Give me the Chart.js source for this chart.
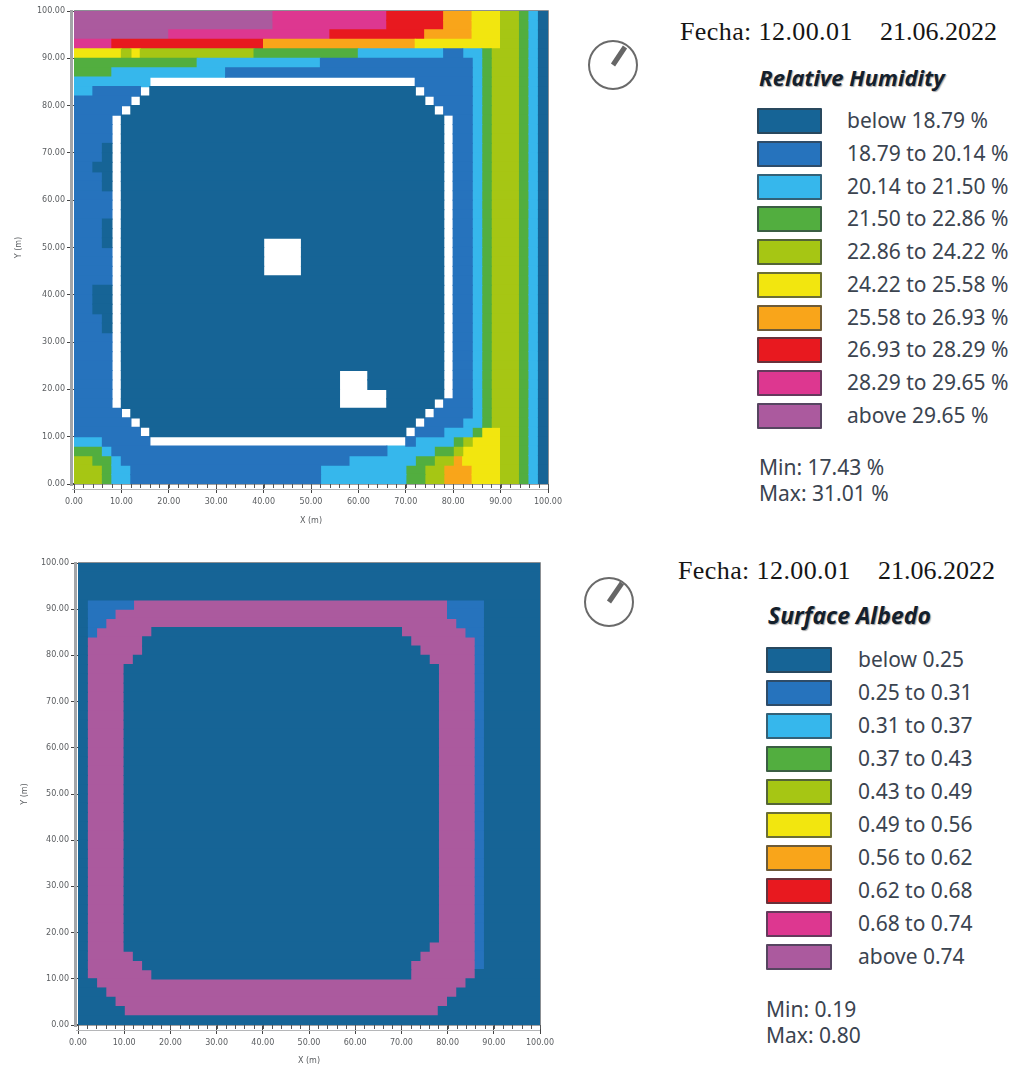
<!DOCTYPE html>
<html>
<head>
<meta charset="utf-8">
<script src="https://cdn.jsdelivr.net/npm/chart.js@4"></script>
<style>
  html, body { margin: 0; padding: 0; background: #fff; }
  body { position: relative; width: 1018px; height: 1069px; overflow: hidden; font-family: "Noto Sans", sans-serif; color: #3b4450; filter: blur(.4px); }
  canvas { position: absolute; left: 0; }
  svg { position: absolute; }
  .txt { position: absolute; white-space: nowrap; line-height: 1; }
  .fecha { font-family: "Liberation Serif", serif; font-size: 26px; color: #151515; }
  .title { font-family: "Noto Sans", sans-serif; font-weight: bold; font-style: italic; font-size: 22px; color: #14202c; text-shadow: 1px 1px 1px rgba(0,0,0,.35); }
  .lab { font-size: 21px; }
  .box { position: absolute; box-sizing: border-box; border: 2px solid rgba(50,60,70,.7); border-radius: 1px; }
</style>
</head>
<body>
<canvas id="humidityChart" width="580" height="535" style="top:0"></canvas>
<canvas id="albedoChart" width="580" height="529" style="top:540px"></canvas>
<script>
// 凡例の色（クラス 0〜9）
const classColors = ['#166496', '#2673bd', '#36b7ec', '#52ae3f', '#a6c614', '#f2e60f', '#f9a51a', '#e8191f', '#dd3790', '#ab5a9e'];

const humidityLabels = ['below 18.79 %', '18.79 to 20.14 %', '20.14 to 21.50 %', '21.50 to 22.86 %', '22.86 to 24.22 %', '24.22 to 25.58 %', '25.58 to 26.93 %', '26.93 to 28.29 %', '28.29 to 29.65 %', 'above 29.65 %'];
const albedoLabels = ['below 0.25', '0.25 to 0.31', '0.31 to 0.37', '0.37 to 0.43', '0.43 to 0.49', '0.49 to 0.56', '0.56 to 0.62', '0.62 to 0.68', '0.68 to 0.74', 'above 0.74'];

const cellSize = 2; // metres per grid cell
const axisTicks = [0, 10, 20, 30, 40, 50, 60, 70, 80, 90, 100];

// grid rows top to bottom, "class:endColumn" runs, '-' = no data (white)
const edgeE = '4:47 3:48 2:49 0:50';
const tail = '2:43 3:44 ' + edgeE;
const humidityRows = [
  '9:21 8:33 7:39 6:42 5:45 ' + edgeE,
  '9:21 8:33 7:39 6:42 5:45 ' + edgeE,
  '9:10 8:27 7:37 6:42 5:45 ' + edgeE,
  '8:4 7:20 6:36 5:45 ' + edgeE,
  '5:5 4:6 5:7 4:19 3:30 2:39 1:41 ' + tail,
  '3:13 2:26 1:42 ' + tail,
  '3:4 2:16 1:42 ' + tail,
  '2:8 -:36 1:42 ' + tail,
  '2:2 1:7 -:8 0:36 -:37 1:42 ' + tail,
  '1:6 -:7 0:37 -:38 1:42 ' + tail,
  '1:5 -:6 0:38 -:39 1:42 ' + tail,
  '1:4 -:5 0:39 -:40 1:42 ' + tail,
  '1:4 -:5 0:39 -:40 1:42 ' + tail,
  '1:4 -:5 0:39 -:40 1:42 ' + tail,
  '1:3 0:4 -:5 0:39 -:40 1:42 ' + tail,
  '1:3 0:4 -:5 0:39 -:40 1:42 ' + tail,
  '1:2 0:4 -:5 0:39 -:40 1:42 ' + tail,
  '1:3 0:4 -:5 0:39 -:40 1:42 ' + tail,
  '1:3 0:4 -:5 0:39 -:40 1:42 ' + tail,
  '1:4 -:5 0:39 -:40 1:42 ' + tail,
  '1:4 -:5 0:39 -:40 1:42 ' + tail,
  '1:4 -:5 0:39 -:40 1:42 ' + tail,
  '1:3 0:4 -:5 0:39 -:40 1:42 ' + tail,
  '1:3 0:4 -:5 0:39 -:40 1:42 ' + tail,
  '1:3 0:4 -:5 0:20 -:24 0:39 -:40 1:42 ' + tail,
  '1:4 -:5 0:20 -:24 0:39 -:40 1:42 ' + tail,
  '1:4 -:5 0:20 -:24 0:39 -:40 1:42 ' + tail,
  '1:4 -:5 0:20 -:24 0:39 -:40 1:42 ' + tail,
  '1:4 -:5 0:39 -:40 1:42 ' + tail,
  '1:2 0:4 -:5 0:39 -:40 1:42 ' + tail,
  '1:2 0:4 -:5 0:39 -:40 1:42 ' + tail,
  '1:2 0:4 -:5 0:39 -:40 1:42 ' + tail,
  '1:3 0:4 -:5 0:39 -:40 1:42 ' + tail,
  '1:3 0:4 -:5 0:39 -:40 1:42 ' + tail,
  '1:4 -:5 0:39 -:40 1:42 ' + tail,
  '1:4 -:5 0:39 -:40 1:42 ' + tail,
  '1:4 -:5 0:39 -:40 1:42 ' + tail,
  '1:4 -:5 0:39 -:40 1:42 ' + tail,
  '1:4 -:5 0:28 -:31 0:39 -:40 1:42 ' + tail,
  '1:4 -:5 0:28 -:31 0:39 -:40 1:42 ' + tail,
  '1:4 -:5 0:28 -:33 0:39 -:40 1:42 ' + tail,
  '1:4 -:5 0:28 -:33 0:38 -:39 1:42 ' + tail,
  '1:5 -:6 0:37 -:38 1:42 ' + tail,
  '1:6 -:7 0:36 -:37 1:41 ' + tail,
  '1:7 -:8 0:35 -:36 1:39 2:42 3:43 5:45 ' + edgeE,
  '2:3 1:8 -:35 1:36 2:40 3:41 4:42 5:45 ' + edgeE,
  '3:3 2:4 1:33 2:38 3:40 4:41 5:45 ' + edgeE,
  '4:2 3:4 2:5 1:29 2:36 3:38 4:40 6:41 5:45 ' + edgeE,
  '4:3 3:4 2:6 1:26 2:35 3:37 4:39 6:42 5:45 ' + edgeE,
  '4:3 3:4 2:6 1:26 2:35 3:37 4:39 6:42 5:45 ' + edgeE
];

const ringRow = '0:1 9:5 0:39 9:43 1:44 0:50';
const albedoRows = [
  '0:50', '0:50', '0:50', '0:50',
  '0:1 1:6 9:40 1:44 0:50',
  '0:1 1:4 9:40 1:44 0:50',
  '0:1 1:3 9:41 1:44 0:50',
  '0:1 1:2 9:8 0:35 9:42 1:44 0:50',
  '0:1 9:7 0:36 9:43 1:44 0:50',
  '0:1 9:7 0:37 9:43 1:44 0:50',
  '0:1 9:6 0:38 9:43 1:44 0:50',
  ringRow, ringRow, ringRow, ringRow, ringRow, ringRow, ringRow, ringRow, ringRow, ringRow,
  ringRow, ringRow, ringRow, ringRow, ringRow, ringRow, ringRow, ringRow, ringRow, ringRow,
  ringRow, ringRow, ringRow, ringRow, ringRow, ringRow, ringRow, ringRow, ringRow, ringRow,
  '0:1 9:5 0:38 9:43 1:44 0:50',
  '0:1 9:6 0:37 9:43 1:44 0:50',
  '0:1 9:7 0:36 9:43 1:44 0:50',
  '0:1 9:8 0:36 9:43 0:50',
  '0:2 9:42 0:50',
  '0:3 9:41 0:50',
  '0:4 9:40 0:50',
  '0:5 9:39 0:50',
  '0:50'
];

// runs -> one floating bar dataset per class
function buildDatasets(rows) {
  const datasets = classColors.map(color => ({
    data: [],
    backgroundColor: color,
    borderWidth: 0,
    inflateAmount: 0.6, // 行の間の隙間を消す
    barPercentage: 1,
    categoryPercentage: 1,
    grouped: false
  }));
  rows.forEach((row, r) => {
    const y = (rows.length - 1 - r) * cellSize + cellSize / 2;
    let from = 0;
    row.split(' ').forEach(run => {
      const parts = run.split(':');
      const end = parseInt(parts[1]);
      if (parts[0] !== '-') {
        datasets[parseInt(parts[0])].data.push({ x: [from * cellSize, end * cellSize], y: y });
      }
      from = end;
    });
  });
  return datasets;
}

// 枠線と細かい目盛り
const framePlugin = {
  id: 'frame',
  afterDraw(chart) {
    const c = chart.ctx, a = chart.chartArea, xs = chart.scales.x;
    c.save();
    c.strokeStyle = '#8b8f93';
    c.lineWidth = 1;
    c.beginPath();
    c.moveTo(a.left, a.top - 0.5); c.lineTo(a.right + 0.5, a.top - 0.5); c.lineTo(a.right + 0.5, a.bottom);
    c.stroke();
    // left grey band
    c.strokeStyle = '#a3a5a8';
    c.lineWidth = 3;
    c.beginPath();
    c.moveTo(a.left - 2.5, a.top - 1); c.lineTo(a.left - 2.5, a.bottom + 2);
    c.stroke();
    // bottom double line with minor ticks between
    c.strokeStyle = '#b5b6b8';
    c.lineWidth = 1;
    c.beginPath();
    c.moveTo(a.left - 2, a.bottom + 5.5); c.lineTo(a.right, a.bottom + 5.5);
    c.stroke();
    c.strokeStyle = '#555';
    c.beginPath();
    for (let v = 0; v <= 100; v += cellSize) {
      const px = Math.round(xs.getPixelForValue(v)) + 0.5;
      c.moveTo(px, a.bottom);
      c.lineTo(px, a.bottom + 4);
    }
    c.stroke();
    c.restore();
  }
};

function makeChart(id, rows, box) {
  const tickFont = { family: 'DejaVu Sans', size: 8 };
  const zeroPad = s => { s.paddingTop = s.paddingBottom = s.paddingLeft = s.paddingRight = 0; };
  new Chart(document.getElementById(id), {
    type: 'bar',
    data: { datasets: buildDatasets(rows) },
    plugins: [framePlugin],
    options: {
      indexAxis: 'y',
      responsive: false,
      animation: false,
      events: [],
      layout: { padding: { top: box.top, right: box.right, left: 0, bottom: 0 } },
      plugins: { legend: { display: false }, tooltip: { enabled: false } },
      scales: {
        x: {
          type: 'linear', min: 0, max: 100, offset: false,
          afterBuildTicks: s => { s.ticks = axisTicks.map(v => ({ value: v })); },
          afterFit: s => { s.height = box.xHeight; zeroPad(s); },
          border: { display: true, color: '#444', width: 1.5 },
          grid: { display: true, drawOnChartArea: false, drawTicks: true, tickLength: 9, tickColor: '#444', offset: false },
          ticks: { color: '#5a5d60', font: tickFont, padding: 4, maxRotation: 0, autoSkip: false, callback: v => v.toFixed(2) },
          title: { display: true, text: 'X (m)', color: '#5a5d60', font: tickFont, padding: { top: 0, bottom: box.xTitlePad } }
        },
        y: {
          type: 'linear', min: 0, max: 100, offset: false,
          afterBuildTicks: s => { s.ticks = axisTicks.map(v => ({ value: v })); },
          afterFit: s => { s.width = box.yWidth; zeroPad(s); },
          border: { display: true, color: '#555', width: 1 },
          grid: { display: true, drawOnChartArea: false, drawTicks: true, tickLength: 7, tickColor: '#444', offset: false },
          ticks: { color: '#5a5d60', font: tickFont, padding: 2, autoSkip: false, callback: v => v.toFixed(2) },
          title: { display: true, text: 'Y (m)', color: '#5a5d60', font: tickFont, padding: { top: box.yTitlePad, bottom: 0 } }
        }
      }
    }
  });
}

function addText(cls, text, left, top, extra) {
  const el = document.createElement('div');
  el.className = 'txt ' + cls;
  el.textContent = text;
  el.style.left = left + 'px';
  el.style.top = top + 'px';
  if (extra) el.style.cssText += extra;
  document.body.appendChild(el);
}

function addClock(cx, cy, nx, ny) {
  const ns = 'http://www.w3.org/2000/svg';
  const svg = document.createElementNS(ns, 'svg');
  svg.setAttribute('width', 60); svg.setAttribute('height', 60);
  svg.style.left = (cx - 30) + 'px'; svg.style.top = (cy - 30) + 'px';
  svg.innerHTML = '<circle cx="30" cy="30" r="24" fill="none" stroke="#6a6a6a" stroke-width="2"/>' +
    '<line x1="30" y1="30" x2="' + (30 + nx) + '" y2="' + (30 + ny) + '" stroke="#666" stroke-width="5"/>';
  document.body.appendChild(svg);
}

function addLegend(labels, boxX, labelX, boxTop, step, boxW) {
  labels.forEach((label, i) => {
    const el = document.createElement('div');
    el.className = 'box';
    const top = boxTop + i * step;
    el.style.cssText = 'left:' + boxX + 'px;top:' + top + 'px;width:' + boxW + 'px;height:26px;background:' + classColors[i];
    document.body.appendChild(el);
    addText('lab', label, labelX, top + 2);
  });
}

makeChart('humidityChart', humidityRows, { top: 11, right: 32, xHeight: 51, yWidth: 74, xTitlePad: 9, yTitlePad: 14 });
makeChart('albedoChart', albedoRows, { top: 23, right: 40, xHeight: 44, yWidth: 78, xTitlePad: 3, yTitlePad: 20 });

addClock(613, 65, 12, -18);
addText('fecha', 'Fecha: 12.00.01', 680, 19, 'letter-spacing:.4px');
addText('fecha', '21.06.2022', 880, 19);
addText('title', 'Relative Humidity', 759, 66);
addLegend(humidityLabels, 757, 847, 108, 32.75, 65);
addText('lab', 'Min: 17.43 %', 759, 457);
addText('lab', 'Max: 31.01 %', 759, 483);

addClock(609, 602, 13, -19);
addText('fecha', 'Fecha: 12.00.01', 678, 558, 'letter-spacing:.4px');
addText('fecha', '21.06.2022', 878, 558);
addText('title', 'Surface Albedo', 768, 604, 'font-size:23px');
addLegend(albedoLabels, 766, 858, 647, 32.95, 66);
addText('lab', 'Min: 0.19', 766, 999);
addText('lab', 'Max: 0.80', 766, 1025);
</script>
</body>
</html>
